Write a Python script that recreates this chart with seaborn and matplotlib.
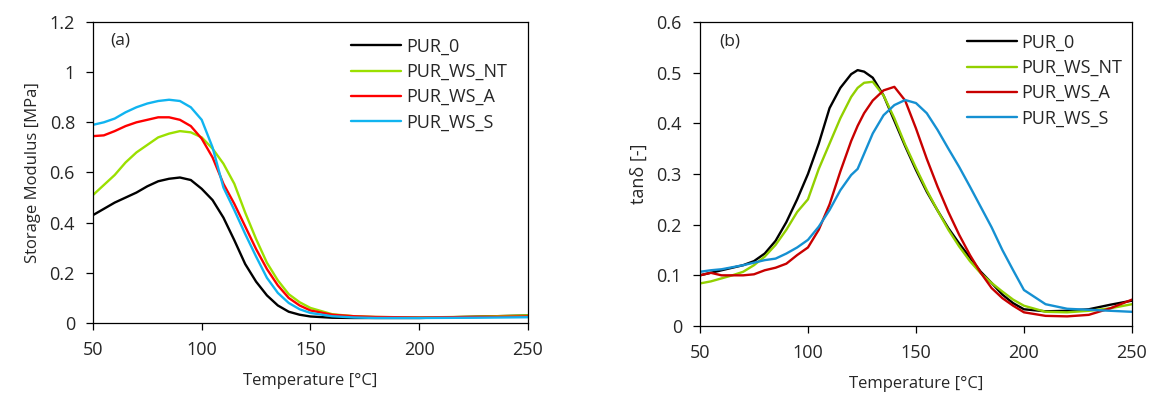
import matplotlib
matplotlib.use("Agg")
import matplotlib.pyplot as plt
import seaborn as sns
import pandas as pd
from matplotlib.ticker import FuncFormatter, MultipleLocator

# ---------------- data ----------------
series_names = ["PUR_0", "PUR_WS_NT", "PUR_WS_A", "PUR_WS_S"]

temp_a = [50, 55, 60, 65, 70, 75, 80, 85, 90, 95, 100, 105, 110, 115, 120, 125,
          130, 135, 140, 145, 150, 160, 170, 180, 200, 225, 250]
mod_pur0 = [.43, .455, .48, .50, .52, .545, .565, .575, .58, .57, .535, .49, .42, .33,
            .235, .165, .11, .07, .045, .033, .026, .021, .02, .02, .02, .025, .03]
mod_nt = [.51, .55, .59, .64, .68, .71, .74, .755, .765, .76, .74, .695, .635, .555,
          .44, .335, .24, .17, .115, .083, .06, .035, .027, .024, .022, .025, .03]
mod_a = [.745, .748, .765, .785, .80, .81, .82, .82, .81, .785, .735, .66, .555, .475,
         .385, .295, .215, .15, .10, .07, .05, .033, .027, .024, .022, .024, .026]
mod_s = [.79, .80, .815, .84, .86, .875, .885, .89, .885, .86, .81, .70, .54, .45,
         .355, .265, .18, .12, .08, .055, .04, .027, .022, .02, .02, .021, .023]

temp_b = [50, 55, 60, 65, 70, 75, 80, 85, 90, 95, 100, 105, 110, 115, 120, 123, 126,
          130, 135, 140, 145, 150, 155, 160, 165, 170, 175, 180, 185, 190, 195, 200,
          210, 220, 230, 240, 250]
tan_pur0 = [.10, .105, .11, .115, .12, .128, .143, .168, .205, .25, .30, .36, .43, .47,
            .497, .505, .502, .49, .455, .405, .355, .308, .265, .228, .193, .163, .135,
            .107, .085, .062, .045, .033, .029, .03, .033, .042, .05]
tan_nt = [.084, .088, .094, .10, .107, .12, .137, .16, .19, .225, .25, .31, .36, .41,
          .452, .47, .48, .482, .455, .41, .358, .312, .268, .228, .19, .157, .128, .104,
          .085, .068, .052, .04, .028, .027, .03, .035, .043]
tan_a = [.10, .105, .10, .10, .10, .102, .11, .115, .123, .14, .155, .19, .24, .305,
         .365, .395, .42, .445, .465, .472, .445, .39, .33, .275, .225, .18, .14, .105,
         .075, .055, .04, .027, .02, .019, .022, .035, .052]
tan_s = [.107, .11, .112, .116, .12, .125, .13, .133, .143, .155, .17, .196, .229, .268,
         .298, .31, .34, .38, .416, .436, .446, .44, .42, .387, .35, .314, .275, .235,
         .195, .15, .11, .071, .043, .034, .032, .03, .028]

colors_a = ["#000000", "#9BE000", "#FF0000", "#10B4F0"]
colors_b = ["#000000", "#92D000", "#C80000", "#1590D2"]

FONT = ["Open Sans", "DejaVu Sans"]

def long_df(temp, cols):
    frames = []
    for name, vals in zip(series_names, cols):
        frames.append(pd.DataFrame({"T": temp, "v": vals, "s": name}))
    return pd.concat(frames, ignore_index=True)

df_a = long_df(temp_a, [mod_pur0, mod_nt, mod_a, mod_s])
df_b = long_df(temp_b, [tan_pur0, tan_nt, tan_a, tan_s])

sns.set_style("white")
plt.rcParams["font.family"] = FONT
plt.rcParams["axes.edgecolor"] = "#000000"

fig = plt.figure(figsize=(11.56, 3.94), dpi=100)
ax1 = fig.add_axes([0.0804, 0.1802, 0.3763, 0.764])
ax2 = fig.add_axes([0.6055, 0.1726, 0.3737, 0.7716])

fmt = FuncFormatter(lambda v, p: f"{v:g}")

panels = [
    (ax1, df_a, colors_a, (0, 1.2), 0.2, "Storage Modulus [MPa]", 12, "(a)",
     0.039, 0.937, (0.968, 0.972)),
    (ax2, df_b, colors_b, (0, 0.6), 0.1, "tan\u03b4 [-]", 13, "(b)",
     0.044, 0.936, (0.995, 0.985)),
]

for ax, df, cols, ylim, ystep, ylabel, ylsize, tag, tagx, tagy, anchor in panels:
    sns.lineplot(data=df, x="T", y="v", hue="s", palette=cols, ax=ax,
                 linewidth=1.7, legend=False, estimator=None, sort=False)
    ax.set_xlim(50, 250)
    ax.set_ylim(*ylim)
    ax.xaxis.set_major_locator(MultipleLocator(50))
    ax.yaxis.set_major_locator(MultipleLocator(ystep))
    ax.yaxis.set_major_formatter(fmt)
    ax.xaxis.set_major_formatter(fmt)
    ax.tick_params(direction="out", length=5, width=0.9, labelsize=13,
                   colors="#000000", labelcolor="#262626", bottom=True, left=True)
    ax.tick_params(axis="x", pad=8)
    ax.tick_params(axis="y", pad=8)
    for sp in ax.spines.values():
        sp.set_visible(True)
        sp.set_linewidth(0.9)
        sp.set_color("#000000")
    ax.set_xlabel("Temperature [\u00b0C]", fontsize=12, color="#262626", labelpad=10)
    ax.set_ylabel(ylabel, fontsize=ylsize, color="#262626", labelpad=6)
    ax.text(tagx, tagy, tag, transform=ax.transAxes, fontsize=12.5,
            color="#262626", va="center", ha="left")
    handles = [plt.Line2D([], [], color=c, linewidth=1.7) for c in cols]
    ax.legend(handles, series_names, loc="upper right",
              bbox_to_anchor=anchor, frameon=False, fontsize=13,
              handlelength=2.77, handletextpad=0.28, labelspacing=0.4,
              borderaxespad=0.0, labelcolor="#262626")

fig.savefig("out.png", dpi=100)
